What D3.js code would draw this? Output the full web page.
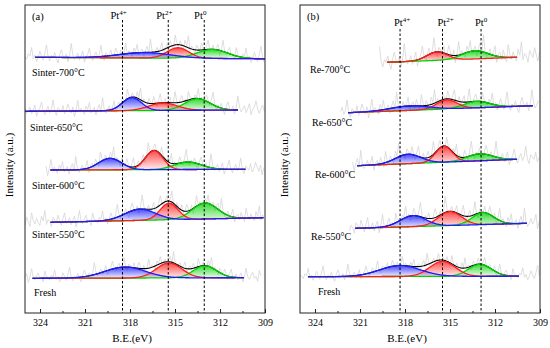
<!DOCTYPE html>
<html><head><meta charset="utf-8">
<script src="https://cdn.jsdelivr.net/npm/d3@7"></script>
<style>
body{margin:0;background:#fff}
svg{display:block}
text{font-family:"Liberation Serif","Times New Roman",serif;fill:#000}
</style></head>
<body><svg id="c" width="550" height="348"></svg>
<script>
// ---------------- DATA ----------------
const xTicks = [324, 321, 318, 315, 312, 309];
const minorTicks = [322.5, 319.5, 316.5, 313.5, 310.5];
const refLabels = ["4+", "2+", "0"];

// Panel (a)
const labelsA = ["Sinter-700°C", "Sinter-650°C", "Sinter-600°C", "Sinter-550°C", "Fresh"];
const refA = [318.5, 315.45, 313.05];
const rangeA = [[324.33, 309.0], [325.0, 310.8], [323.3, 310.3], [323.3, 309.1], [324.5, 310.4]];
const baseA = [[255.7, 254.2], [201.7, 203.0], [143.0, 143.7], [90.7, 95.3], [34.7, 35.3]];
const blueA = [[317.0, 5.5, 4.0], [317.87, 13, 1.5], [319.33, 11.5, 1.8], [317.33, 11.3, 2.4], [318.33, 11, 3.2]];
const redA = [[314.8, 10.5, 1.7], [315.8, 7.5, 2.2], [316.4, 19, 1.4], [315.4, 16.5, 1.4], [315.4, 15, 2.0]];
const greenA = [[312.5, 9, 2.4], [313.5, 11.5, 2.0], [314.13, 7.5, 2.1], [313.0, 16, 2.0], [313.0, 12, 1.8]];
const rawRangeA = [[325, 309], [325, 309], [323.6, 309], [325, 309], [325, 309.2]];
const rawAmpA = [7, 7, 7, 7, 6];

// Panel (b)
const labelsB = ["Re-700°C", "Re-650°C", "Re-600°C", "Re-550°C", "Fresh"];
const refB = [318.33, 315.5, 312.93];
const rangeB = [[319.2, 310.53], [321.8, 309.47], [321.2, 310.53], [321.33, 309.87], [324.47, 310.4]];
const baseB = [[250.7, 255.7], [200.3, 207.3], [147.3, 153.7], [84.7, 89.7], [36.3, 36.8]];
const blueB = [null, [317.67, 4.5, 3.0], [317.8, 9.4, 2.0], [317.47, 11, 2.0], [318.33, 11, 3.2]];
const redB = [[315.87, 8.5, 1.6], [315.2, 9, 1.6], [315.4, 16, 1.3], [315.0, 14, 1.8], [315.5, 15, 2.0]];
const greenB = [[313.33, 8.2, 2.0], [313.2, 6.5, 2.0], [313.0, 7, 2.0], [312.8, 12, 1.7], [313.0, 12, 1.8]];
const rawRangeB = [[319.7, 309], [322.3, 309], [321.5, 309], [321.7, 309], [325, 309]];
const rawAmpB = [9, 8, 8, 8, 6];

// hand-typed noise pattern of the raw (grey) spectra
const noise = [0.1,-0.3,0.5,0.2,1.4,-0.2,0.3,-0.6,0.0,0.9,0.2,-0.4,0.6,1.8,0.1,-0.5,0.3,0.0,0.7,-0.2,
-0.8,0.4,1.1,0.2,-0.1,0.5,-0.6,0.3,2.0,0.4,-0.3,0.1,0.6,-0.4,0.2,0.9,-0.7,0.0,0.4,1.3,
0.1,-0.5,0.2,0.7,-0.2,0.3,1.6,0.0,-0.6,0.5,0.2,-0.1,0.8,-0.4,0.1,1.0,0.3,-0.3,0.6,-0.8,
0.2,1.5,-0.1,0.4,0.0,-0.5,0.7,0.2,1.2,-0.3,0.1,0.5,-0.6,0.3,0.9,-0.2,1.9,0.2,-0.4,0.0,
0.6,-0.1,0.3,1.1,-0.7,0.2,0.5,-0.3,0.8,0.1,-0.5,1.4,0.3,-0.2,0.6,0.0,-0.4,0.9,0.2,1.7,
-0.3,0.4,0.1,-0.6,0.7,0.3,-0.1,1.0,0.2,-0.5,0.5,1.3,-0.2,0.0,0.6,-0.4,0.3,0.8,-0.7,0.2,
1.6,0.1,-0.3,0.4,0.9,-0.1,0.2,-0.6,1.2,0.3];

// ---------------- LAYOUT ----------------
const panels = [
  {x0: 25, tag: "(a)", labels: labelsA, ref: refA, range: rangeA, base: baseA, blue: blueA, red: redA, green: greenA,
   rawRange: rawRangeA, rawAmp: rawAmpA,
   labelPos: [[32, 76], [30, 131], [32, 189], [32, 238], [34, 296]],
   refDx: [-4, -4, -4], refTextY: 19, refTop: 20, xlabelX: 132, ylabelX: 13},
  {x0: 300, tag: "(b)", labels: labelsB, ref: refB, range: rangeB, base: baseB, blue: blueB, red: redB, green: greenB,
   rawRange: rawRangeB, rawAmp: rawAmpB,
   labelPos: [[310, 73], [312, 126], [315, 178], [311, 240], [318, 295]],
   refDx: [2, 3, 0], refTextY: 26, refTop: 29, xlabelX: 407, ylabelX: 288}
];

const colors = {blue: "#1c1cff", red: "#ff1c1c", green: "#00d200"};
const svg = d3.select("#c");
const defs = svg.append("defs");
Object.entries(colors).forEach(([k, c]) => {
  const g = defs.append("linearGradient").attr("id", "g-" + k)
    .attr("x1", 0).attr("y1", 0).attr("x2", 0).attr("y2", 1);
  g.append("stop").attr("offset", 0).attr("stop-color", c).attr("stop-opacity", 0.8);
  g.append("stop").attr("offset", 1).attr("stop-color", c).attr("stop-opacity", 0.06);
});

const gauss = (p, E) => p[1] * Math.exp(-((E - p[0]) ** 2) / (2 * (p[2] / 2.3548) ** 2));

panels.forEach((cfg, pi) => {
  const x = d3.scaleLinear().domain([325, 309]).range([cfg.x0, cfg.x0 + 240]);
  const y = d3.scaleLinear().domain([0, 308]).range([313, 5]);
  const g = svg.append("g");
  const line = d3.line().x(d => x(d[0])).y(d => y(d[1]));
  const area = d3.area().x(d => x(d[0])).y0(d => y(d[1])).y1(d => y(d[2]));

  const specs = cfg.range.map((r, i) => {
    const [E0, E1] = r, [b0, b1] = cfg.base[i];
    const base = E => b0 + (b1 - b0) * (E0 - E) / (E0 - E1);
    const peaks = [["blue", cfg.blue[i]], ["red", cfg.red[i]], ["green", cfg.green[i]]].filter(d => d[1]);
    const env = E => peaks.reduce((s, [, p]) => s + gauss(p, E), 0);
    const Es = d3.range(E0, E1, -0.05).concat([E1]);
    return {i, E0, E1, base, peaks, env, Es};
  });

  // raw grey spectra
  const rawG = g.append("g");
  specs.forEach(s => {
    const [r0, r1] = cfg.rawRange[s.i];
    const pts = d3.range(r0, r1, -0.11).map((E, j) =>
      [E, s.base(E) + s.env(E) + cfg.rawAmp[s.i] * noise[(j + s.i * 29 + pi * 13) % noise.length]]);
    rawG.append("path").attr("d", line(pts)).attr("fill", "none")
      .attr("stroke", "#d6d6d6").attr("stroke-width", 0.8);
  });

  // fitted components
  specs.forEach(s => {
    const sg = g.append("g");
    s.peaks.forEach(([k, p]) => {
      sg.append("path").attr("d", area(s.Es.map(E => [E, s.base(E), s.base(E) + gauss(p, E)])))
        .attr("fill", `url(#g-${k})`).attr("stroke", "none");
    });
    sg.append("path").attr("d", line(s.Es.map(E => [E, s.base(E) + s.env(E)])))
      .attr("fill", "none").attr("stroke", "#000").attr("stroke-width", 1.1);
    [...s.peaks].reverse().forEach(([k, p]) => {
      sg.append("path").attr("d", line(s.Es.map(E => [E, s.base(E) + gauss(p, E)])))
        .attr("fill", "none").attr("stroke", colors[k]).attr("stroke-width", 1.3);
    });
  });

  // reference dashed lines
  cfg.ref.forEach((e, j) => {
    g.append("line").attr("x1", x(e)).attr("x2", x(e)).attr("y1", cfg.refTop).attr("y2", 313)
      .attr("stroke", "#000").attr("stroke-width", 1).attr("stroke-dasharray", "2.5,2");
    const t = g.append("text").attr("x", x(e) + cfg.refDx[j]).attr("y", cfg.refTextY)
      .attr("text-anchor", "middle").attr("font-size", 10.5);
    t.append("tspan").text("Pt");
    t.append("tspan").attr("font-size", 7).attr("dy", -4).text(refLabels[j]);
  });

  // sample labels
  cfg.labels.forEach((l, i) => {
    g.append("text").attr("x", cfg.labelPos[i][0]).attr("y", cfg.labelPos[i][1])
      .attr("font-size", 10).text(l);
  });

  // frame
  g.append("rect").attr("x", cfg.x0).attr("y", 5).attr("width", 240).attr("height", 308)
    .attr("fill", "none").attr("stroke", "#222").attr("stroke-width", 1);

  // axes
  const ax = g.append("g").attr("transform", "translate(0,313)")
    .call(d3.axisBottom(x).tickValues(xTicks).tickSizeInner(-4).tickSizeOuter(0).tickPadding(6).tickFormat(d3.format("d")));
  ax.select(".domain").remove();
  ax.attr("font-family", null).attr("font-size", null);
  ax.selectAll("text").attr("font-size", 10).attr("fill", "#000");
  ax.selectAll("line").attr("stroke", "#222");
  const ax2 = g.append("g").attr("transform", "translate(0,313)")
    .call(d3.axisBottom(x).tickValues(minorTicks).tickSizeInner(-2).tickSizeOuter(0).tickFormat(""));
  ax2.select(".domain").remove();
  ax2.selectAll("line").attr("stroke", "#222");

  g.append("text").attr("x", cfg.x0 + 7).attr("y", 20).attr("font-size", 10.5).text(cfg.tag);
  g.append("text").attr("x", cfg.xlabelX).attr("y", 342).attr("text-anchor", "middle")
    .attr("font-size", 11).text("B.E.(eV)");
  g.append("text").attr("transform", `translate(${cfg.ylabelX},165) rotate(-90)`)
    .attr("text-anchor", "middle").attr("font-size", 11).text("Intensity (a.u.)");
});
</script></body></html>
